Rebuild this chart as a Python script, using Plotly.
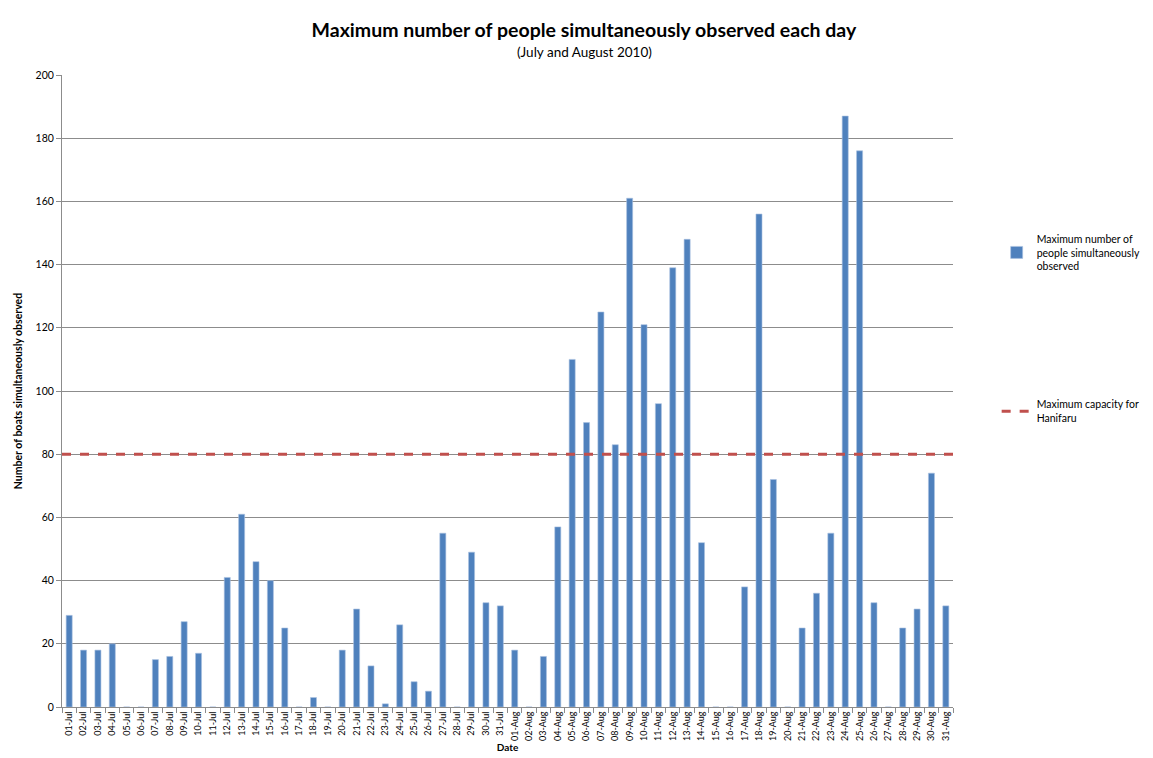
import pandas as pd
import plotly.graph_objects as go

# one label per day, July 1 - Aug 31 2010
dates = list(pd.date_range("2010-07-01", "2010-08-31").strftime("%d-%b"))

people_july = [29, 18, 18, 20, 0, 0, 15, 16, 27, 17, 0, 41, 61, 46, 40, 25,
               0, 3, 0, 18, 31, 13, 1, 26, 8, 5, 55, 0, 49, 33, 32]
people_aug = [18, 0, 16, 57, 110, 90, 125, 83, 161, 121, 96, 139, 148, 52, 0, 0,
              38, 156, 72, 0, 25, 36, 55, 187, 176, 33, 0, 25, 31, 74, 32]
people = people_july + people_aug

capacity = 80

FONT = "Lato, 'Open Sans', sans-serif"
GRID = "#8c8c8c"

fig = go.Figure()

fig.add_trace(go.Bar(
    x=dates, y=people,
    name="Maximum number of<br>people simultaneously<br>observed",
    marker=dict(color="#4f81bd", line=dict(color="#a9c1e0", width=0.6)),
    showlegend=True, legend="legend",
))

# capacity line across the whole plot
fig.add_shape(
    type="line", xref="x domain", x0=0, x1=1, yref="y", y0=capacity, y1=capacity,
    line=dict(color="#c0504d", width=3, dash="dash"),
    showlegend=True, legend="legend2",
    name="Maximum capacity for<br>Hanifaru",
)

# chart area frame
fig.add_shape(
    type="rect", xref="paper", yref="paper",
    x0=-0.063, x1=1.25, y0=-0.2, y1=1.107,
    line=dict(color="#b4b4b4", width=1), layer="below",
)

fig.add_annotation(
    text="(July and August 2010)", xref="paper", yref="paper",
    x=0.586, y=1.036, xanchor="center", yanchor="middle",
    showarrow=False, font=dict(size=13.5),
)

# the page body adds 8px at top/left, so the figure is a bit smaller
fig.update_layout(
    width=1145, height=750,
    margin=dict(l=54, r=200, t=67, b=51, autoexpand=False),
    paper_bgcolor="white", plot_bgcolor="white",
    font=dict(family=FONT, color="#000000"),
    title=dict(
        text="<b>Maximum number of people simultaneously observed each day</b>",
        x=0.503, xref="container", xanchor="center", y=0.9707, yanchor="middle",
        font=dict(size=19.5),
    ),
    bargap=0.58,
    legend=dict(x=1.049, y=0.762, xanchor="left", yanchor="top",
                font=dict(size=10.5), bgcolor="rgba(0,0,0,0)"),
    legend2=dict(x=1.049, y=0.5, xanchor="left", yanchor="top",
                 font=dict(size=10.5), bgcolor="rgba(0,0,0,0)"),
)

fig.update_xaxes(
    type="category", tickangle=-90, tickfont=dict(size=9),
    ticks="outside", tickson="boundaries", ticklen=5, tickcolor=GRID,
    showline=True, linecolor=GRID, linewidth=1,
    showgrid=False, automargin=False,
    title=dict(text="<b>Date</b>", font=dict(size=10), standoff=2),
)
fig.update_yaxes(
    range=[0, 200], dtick=20, tickfont=dict(size=10.5),
    ticks="outside", ticklen=5, tickcolor=GRID,
    showline=True, linecolor=GRID, linewidth=1,
    showgrid=True, gridcolor=GRID, gridwidth=1, zeroline=False,
    automargin=False,
    title=dict(text="<b>Number of boats simultaneously observed</b>",
               font=dict(size=10.5), standoff=10),
)

fig.write_html("out.html")
